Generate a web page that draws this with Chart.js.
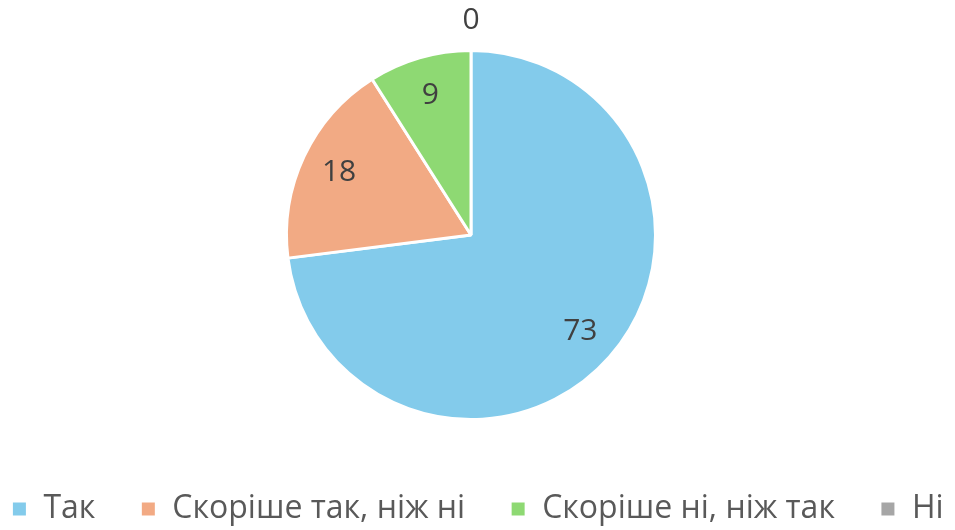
<!DOCTYPE html>
<html>
<head>
<meta charset="utf-8">
<script src="https://cdn.jsdelivr.net/npm/chart.js@4"></script>
<style>
  html, body { margin: 0; padding: 0; background: #fff; }
  #wrap { width: 955px; height: 530px; }
</style>
</head>
<body>
<div id="wrap"><canvas id="myPie"></canvas></div>
<script>
const categories = ['Так', 'Скоріше так, ніж ні', 'Скоріше ні, ніж так', 'Ні'];
const values = [73, 18, 9, 0];
const colors = ['#83CBEB', '#F2AA84', '#8ED973', '#A6A6A6'];

// draw the value labels inside the slices (zero goes outside)
const sliceLabels = {
    id: 'sliceLabels',
    afterDatasetsDraw(chart) {
        const ctx = chart.ctx;
        const meta = chart.getDatasetMeta(0);
        ctx.save();
        ctx.font = '30px "Open Sans"';
        ctx.fillStyle = '#404040';
        ctx.textAlign = 'center';
        ctx.textBaseline = 'middle';
        meta.data.forEach((arc, i) => {
            const p = arc.getProps(['x', 'y', 'startAngle', 'endAngle', 'outerRadius'], true);
            const mid = (p.startAngle + p.endAngle) / 2;
            const r = values[i] === 0 ? p.outerRadius + 30 : p.outerRadius * 0.79;
            ctx.fillText(String(values[i]), p.x + Math.cos(mid) * r, p.y + Math.sin(mid) * r);
        });
        ctx.restore();
    }
};

// keep the legend on a single row and trim its bottom margin
const oneRowLegend = {
    id: 'oneRowLegend',
    afterInit(chart) {
        const lg = chart.legend;
        if (!lg) return;
        const fit = lg.fit;
        lg.fit = function () {
            const w = this.maxWidth;
            this.maxWidth = w + 200;
            fit.call(this);
            this.maxWidth = w;
            this.width = Math.min(this.width, w);
            this.height -= 5;
        };
        const draw = lg.draw;
        lg.draw = function () {
            this.left -= 60;
            this.right += 73;
            draw.call(this);
            this.left += 60;
            this.right -= 73;
        };
    }
};

let ctx = document.getElementById('myPie').getContext('2d');
new Chart(ctx, {
    type: 'pie',
    data: {
        labels: categories,
        datasets: [{
            data: values,
            backgroundColor: colors,
            borderColor: '#ffffff',
            borderWidth: 3
        }]
    },
    options: {
        responsive: true,
        maintainAspectRatio: false,
        animation: false,
        layout: { padding: { top: 49, bottom: 0, left: 0, right: 13 } },
        plugins: {
            legend: {
                position: 'bottom',
                title: { display: true, text: ' ', font: { size: 10 }, padding: { top: 0, bottom: 15 } },
                labels: {
                    font: { family: '"Open Sans"', size: 32 },
                    color: '#595959',
                    boxWidth: 16,
                    boxHeight: 16,
                    padding: 45
                }
            },
            tooltip: { enabled: false }
        }
    },
    plugins: [sliceLabels, oneRowLegend]
});
</script>
</body>
</html>
